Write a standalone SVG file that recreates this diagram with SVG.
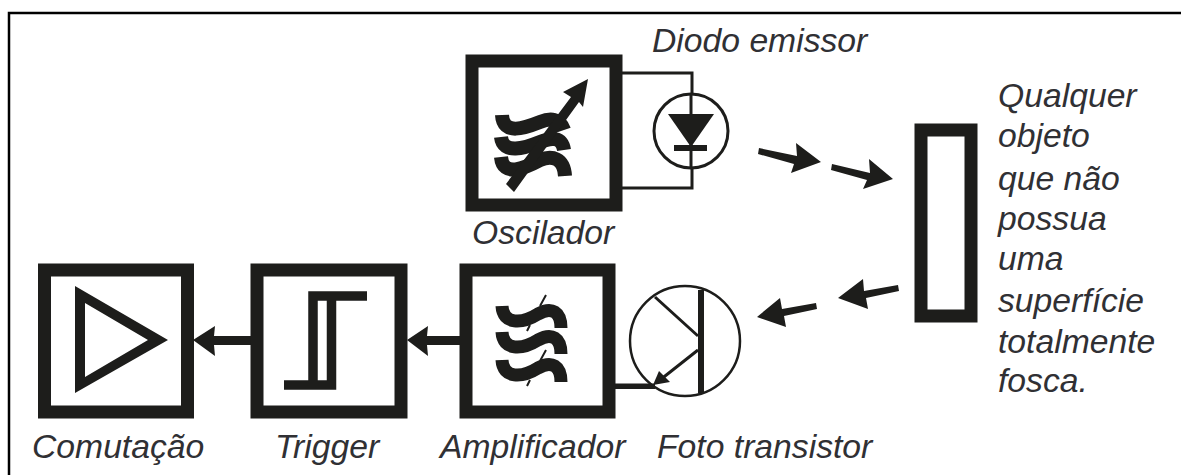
<svg xmlns="http://www.w3.org/2000/svg" width="1181" height="475" viewBox="0 0 1181 475">
<style>
.t{font-family:"Liberation Sans",Arial,sans-serif;font-style:italic;font-size:33.7px;fill:#303034}
.box{fill:#fff;stroke:#1d1d1b;stroke-width:13}
.f{fill:#1d1d1b;stroke:none}
.w{fill:none;stroke:#1d1d1b;stroke-width:13}
.o{fill:none;stroke:#1d1d1b;stroke-width:14}
.th{fill:none;stroke:#1d1d1b;stroke-width:3}
.tk{fill:none;stroke:#1d1d1b;stroke-width:2}
</style>
<defs>
<path id="wave" d="M502,306 C503,325 522,324 538,314 C552,306 561,312 561,328"/>
</defs>
<rect width="1181" height="475" fill="#fff"/>
<path d="M9,475 V13 H1181" fill="none" stroke="#000" stroke-width="2.500"/>
<g id="connectors">
<path class="th" d="M622,73 H692 V188 H622"/>
<path class="f" d="M251,336 H214 L215,326 L193,340 L215,356 L214,345 H251Z"/>
<path class="f" d="M478,336 H427 L428,326 L407,340 L428,356 L427,345 H478Z"/>
<path class="f" d="M615,383.500 H655 V389 H615Z"/>
<path class="f" d="M759,148 L797,156 L796,143 L821,162 L791,173 L794,164 L758,154Z"/>
<path class="f" d="M832,164 L870,173 L869,159 L893,179 L863,189 L867,180 L831,170Z"/>
<path class="f" d="M898,285 L864,291 L863,279 L838,298 L868,309 L866,298 L899,291Z"/>
<path class="f" d="M816,303 L782,309 L780,298 L757,317 L786,327 L784,316 L817,309Z"/>
</g>
<g id="oscilador">
<rect class="box" x="472" y="61" width="144" height="144"/>
<path class="o" d="M502,115 C503,136 525,128 540,122 C550,118 560,118 564,130"/>
<path class="o" d="M501,137 C503,155 525,148 540,142 C552,137 562,137 564,150"/>
<path class="o" d="M501,157 C503,178 525,168 540,160 C552,155 564,158 565,176"/>
<path class="f" d="M588,79 L563,92 L571,97 L506,184 L514,192 L579,102 L583,107Z"/>
</g>
<g id="diodo">
<circle cx="691" cy="131" r="37" fill="#fff" stroke="#1d1d1b" stroke-width="3"/>
<path class="th" d="M691,94 V168"/>
<path class="f" d="M668,114 H714 L691,147Z"/>
<rect class="f" x="674" y="145" width="33" height="6"/>
</g>
<g id="objeto"><rect class="box" x="921" y="130" width="50" height="186"/></g>
<g id="amplificador">
<rect class="box" x="466" y="270" width="143" height="142"/>
<g class="w"><use href="#wave"/><use href="#wave" transform="translate(0,26)"/><use href="#wave" transform="translate(0,54)"/></g>
<path class="tk" d="M546,295 L540,306 M530,325 L527,331 M546,350 L540,361 M530,380 L527,386"/>
</g>
<g id="transistor">
<circle cx="685" cy="341" r="55" fill="none" stroke="#1d1d1b" stroke-width="2.500"/>
<rect class="f" x="698" y="290" width="6" height="103"/>
<path class="th" d="M655,297 L698,336 M698,350 L660,380"/>
<path class="f" d="M653,385 L659,371 L670,382Z"/>
</g>
<g id="trigger">
<rect class="box" x="257" y="270" width="144" height="142"/>
<path fill="none" stroke="#1d1d1b" stroke-width="9.500" d="M284,385 H331.500 V296 M367,296 H313 V385"/>
</g>
<g id="comutacao">
<rect class="box" x="44.500" y="270" width="143" height="142"/>
<path class="f" fill-rule="evenodd" d="M75,286 L168,340 L75,393Z M85,303 V377 L148,340Z"/>
</g>
<g id="labels">
<text class="t" x="652" y="52">Diodo emissor</text>
<text class="t" x="472" y="244">Oscilador</text>
<text class="t" x="998" y="107">Qualquer</text>
<text class="t" x="998" y="147">objeto</text>
<text class="t" x="998" y="190">que não</text>
<text class="t" x="998" y="230">possua</text>
<text class="t" x="998" y="270">uma</text>
<text class="t" x="998" y="312">superfície</text>
<text class="t" x="998" y="353">totalmente</text>
<text class="t" x="998" y="392">fosca.</text>
<text class="t" x="32" y="458">Comutação</text>
<text class="t" x="275" y="458">Trigger</text>
<text class="t" x="440" y="458">Amplificador</text>
<text class="t" x="657" y="458">Foto transistor</text>
</g>
</svg>
